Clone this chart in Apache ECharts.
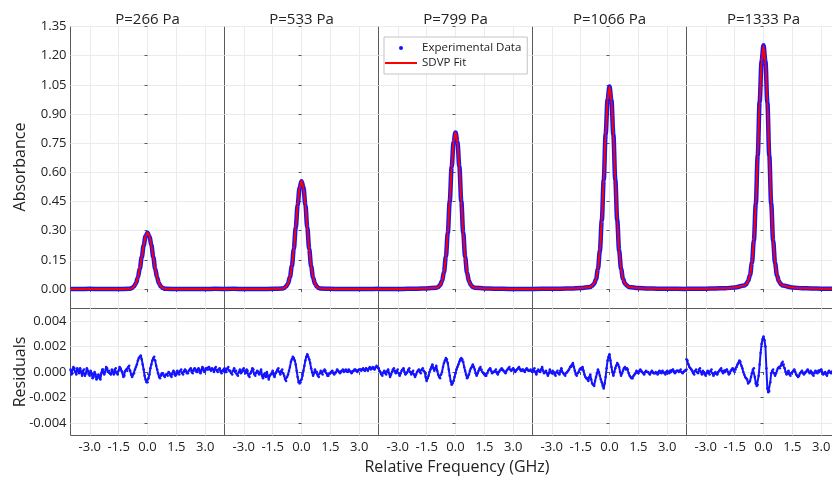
<!DOCTYPE html>
<html><head><meta charset="utf-8">
<script src="https://cdn.jsdelivr.net/npm/echarts@6/dist/echarts.min.js"></script>
<style>html,body{margin:0;padding:0;background:#fff}#c{width:832px;height:477px}</style>
</head><body><div id="c"></div>
<script>
// ---------- data ----------
const panelTitles = ['P=266 Pa', 'P=533 Pa', 'P=799 Pa', 'P=1066 Pa', 'P=1333 Pa'];
const freqTicks = [-3.0, -1.5, 0.0, 1.5, 3.0];
const absTicks = [0.00, 0.15, 0.30, 0.45, 0.60, 0.75, 0.90, 1.05, 1.20, 1.35];
const resTicks = [-0.004, -0.002, 0.000, 0.002, 0.004];

const freqAbs = [-4, -3.5, -3, -2.5, -2, -1.5, -1.0, -0.9, -0.8, -0.7, -0.6, -0.5, -0.4, -0.3, -0.2, -0.1, 0,
  0.1, 0.2, 0.3, 0.4, 0.5, 0.6, 0.7, 0.8, 0.9, 1.0, 1.5, 2, 2.5, 3, 3.5, 4];

const fit266 = [0, 0, 0, 0, 0, 0, 0.001, 0.002, 0.005, 0.013, 0.029, 0.059, 0.104, 0.163, 0.225, 0.272, 0.290,
  0.272, 0.225, 0.163, 0.104, 0.059, 0.029, 0.013, 0.005, 0.002, 0.001, 0, 0, 0, 0, 0, 0];
const fit533 = [0, 0, 0, 0, 0, 0.001, 0.003, 0.006, 0.012, 0.028, 0.061, 0.117, 0.205, 0.316, 0.433, 0.522, 0.555,
  0.522, 0.433, 0.316, 0.205, 0.117, 0.061, 0.028, 0.012, 0.006, 0.003, 0.001, 0, 0, 0, 0, 0];
const fit799 = [0, 0, 0, 0.001, 0.002, 0.003, 0.007, 0.011, 0.020, 0.040, 0.085, 0.165, 0.290, 0.451, 0.628, 0.757, 0.805,
  0.757, 0.628, 0.451, 0.290, 0.165, 0.085, 0.040, 0.020, 0.011, 0.007, 0.003, 0.002, 0.001, 0, 0, 0];
const fit1066 = [0, 0.001, 0.001, 0.002, 0.003, 0.005, 0.011, 0.018, 0.028, 0.052, 0.104, 0.198, 0.354, 0.562, 0.796, 0.972, 1.040,
  0.972, 0.796, 0.562, 0.354, 0.198, 0.104, 0.052, 0.028, 0.018, 0.011, 0.005, 0.003, 0.002, 0.001, 0.001, 0];
const fit1333 = [0.001, 0.001, 0.002, 0.003, 0.004, 0.008, 0.018, 0.025, 0.040, 0.071, 0.134, 0.250, 0.438, 0.688, 0.963, 1.169, 1.250,
  1.169, 0.963, 0.688, 0.438, 0.250, 0.134, 0.071, 0.040, 0.025, 0.018, 0.008, 0.004, 0.003, 0.002, 0.001, 0.001];

const exp266 = [0, 0, 0.001, 0, 0, 0, 0.001, 0.002, 0.006, 0.014, 0.030, 0.060, 0.105, 0.163, 0.224, 0.271, 0.289,
  0.272, 0.226, 0.164, 0.105, 0.059, 0.028, 0.012, 0.005, 0.002, 0.001, 0, 0, 0, 0, 0.001, 0];
const exp533 = [0, 0.001, 0, 0, 0, 0.001, 0.003, 0.006, 0.013, 0.029, 0.062, 0.118, 0.205, 0.315, 0.432, 0.521, 0.554,
  0.523, 0.434, 0.317, 0.206, 0.117, 0.060, 0.028, 0.012, 0.006, 0.003, 0.001, 0, 0, 0, 0, 0.001];
const exp799 = [0, 0, 0, 0.001, 0.002, 0.003, 0.007, 0.011, 0.021, 0.041, 0.086, 0.166, 0.289, 0.450, 0.627, 0.756, 0.805,
  0.758, 0.629, 0.452, 0.291, 0.165, 0.084, 0.040, 0.021, 0.011, 0.007, 0.003, 0.002, 0.001, 0, 0, 0];
const exp1066 = [0, 0.001, 0.001, 0.002, 0.003, 0.005, 0.011, 0.017, 0.027, 0.051, 0.103, 0.197, 0.353, 0.561, 0.797, 0.973, 1.041,
  0.971, 0.795, 0.563, 0.355, 0.198, 0.104, 0.053, 0.028, 0.018, 0.011, 0.005, 0.003, 0.002, 0.001, 0.001, 0];
const exp1333 = [0.002, 0.001, 0.002, 0.003, 0.004, 0.008, 0.018, 0.025, 0.041, 0.072, 0.135, 0.250, 0.437, 0.687, 0.964, 1.171, 1.253,
  1.171, 0.961, 0.686, 0.438, 0.250, 0.134, 0.071, 0.040, 0.025, 0.018, 0.008, 0.004, 0.003, 0.002, 0.001, 0.001];

// residual sample frequencies: main grid and the in-between samples
const freqRes = [-4.0, -3.9, -3.8, -3.7, -3.6, -3.5, -3.4, -3.3, -3.2, -3.1, -3.0, -2.9, -2.8, -2.7, -2.6, -2.5, -2.4, -2.3, -2.2, -2.1,
  -2.0, -1.9, -1.8, -1.7, -1.6, -1.5, -1.4, -1.3, -1.2, -1.1, -1.0, -0.9, -0.8, -0.7, -0.6, -0.5, -0.4, -0.3, -0.2, -0.1,
  0.0, 0.1, 0.2, 0.3, 0.4, 0.5, 0.6, 0.7, 0.8, 0.9, 1.0, 1.1, 1.2, 1.3, 1.4, 1.5, 1.6, 1.7, 1.8, 1.9,
  2.0, 2.1, 2.2, 2.3, 2.4, 2.5, 2.6, 2.7, 2.8, 2.9, 3.0, 3.1, 3.2, 3.3, 3.4, 3.5, 3.6, 3.7, 3.8, 3.9, 4.0];
const freqResMid = [-3.95, -3.85, -3.75, -3.65, -3.55, -3.45, -3.35, -3.25, -3.15, -3.05, -2.95, -2.85, -2.75, -2.65, -2.55, -2.45, -2.35, -2.25, -2.15, -2.05,
  -1.95, -1.85, -1.75, -1.65, -1.55, -1.45, -1.35, -1.25, -1.15, -1.05, -0.95, -0.85, -0.75, -0.65, -0.55, -0.45, -0.35, -0.25, -0.15, -0.05,
  0.05, 0.15, 0.25, 0.35, 0.45, 0.55, 0.65, 0.75, 0.85, 0.95, 1.05, 1.15, 1.25, 1.35, 1.45, 1.55, 1.65, 1.75, 1.85, 1.95,
  2.05, 2.15, 2.25, 2.35, 2.45, 2.55, 2.65, 2.75, 2.85, 2.95, 3.05, 3.15, 3.25, 3.35, 3.45, 3.55, 3.65, 3.75, 3.85, 3.95];

const res266 = [0.0002, -0.0001, 0.0003, -0.0002, 0.0001, 0.0003, -0.0003, 0.0002, -0.0001, 0.0001,
  -0.0003, -0.0001, -0.0004, -0.0002, -0.0005, -0.0003, -0.0001, 0.0002, 0.0000, 0.0003,
  0.0001, -0.0002, 0.0000, 0.0002, -0.0001, 0.0001, 0.0003, 0.0000, -0.0003, 0.0002,
  0.0004, 0.0001, -0.0004, -0.0001, 0.0004, 0.0009, 0.0012, 0.0010, 0.0002, -0.0006,
  -0.0008, -0.0002, 0.0006, 0.0011, 0.0009, 0.0002, -0.0004, -0.0003, -0.0001, -0.0004,
  -0.0002, 0.0000, -0.0003, -0.0002, 0.0000, -0.0002, -0.0001, 0.0001, -0.0001, 0.0000,
  0.0001, -0.0001, 0.0002, 0.0000, 0.0001, 0.0002, 0.0000, 0.0002, 0.0001, 0.0003,
  0.0001, 0.0002, 0.0004, 0.0001, 0.0002, 0.0003, 0.0001, 0.0002, 0.0000, 0.0001, 0.0000];
const res266Mid = [-0.0002, 0.0004, 0.0000, 0.0003, -0.0001, 0.0000, 0.0001, -0.0003, 0.0003, -0.0002,
  0.0001, -0.0005, 0.0000, -0.0006, -0.0002, -0.0006, 0.0002, -0.0002, 0.0004, 0.0000,
  -0.0001, 0.0002, -0.0002, 0.0003, -0.0002, 0.0004, 0.0001, -0.0004, 0.0001, 0.0001,
  0.0005, -0.0002, -0.0002, 0.0002, 0.0006, 0.0011, 0.0013, 0.0006, -0.0003, -0.0008,
  -0.0005, 0.0003, 0.0009, 0.0012, 0.0005, -0.0001, -0.0005, -0.0001, -0.0003, -0.0002,
  -0.0003, -0.0001, -0.0004, 0.0001, -0.0003, 0.0001, -0.0002, 0.0002, -0.0002, 0.0002,
  -0.0001, 0.0001, 0.0003, -0.0001, 0.0003, 0.0000, 0.0003, -0.0001, 0.0004, 0.0000,
  0.0003, 0.0002, 0.0002, 0.0003, 0.0000, 0.0004, 0.0000, 0.0003, -0.0001, 0.0002];

const res533 = [0.0003, 0.0000, 0.0004, 0.0001, -0.0002, 0.0003, 0.0001, -0.0003, 0.0002, 0.0000,
  0.0003, -0.0001, 0.0001, -0.0004, 0.0000, 0.0002, -0.0003, 0.0001, -0.0002, 0.0002,
  -0.0005, -0.0001, 0.0000, -0.0006, -0.0002, 0.0001, -0.0004, 0.0000, 0.0003, -0.0002,
  0.0002, -0.0003, -0.0007, -0.0002, 0.0004, 0.0010, 0.0011, 0.0006, -0.0004, -0.0009,
  -0.0006, 0.0001, 0.0009, 0.0014, 0.0010, 0.0003, -0.0003, 0.0002, 0.0000, -0.0004,
  0.0001, -0.0002, 0.0002, -0.0001, -0.0003, -0.0001, 0.0001, -0.0002, 0.0000, 0.0001,
  -0.0001, 0.0001, 0.0000, 0.0002, 0.0000, 0.0001, -0.0001, 0.0001, 0.0002, 0.0000,
  0.0002, 0.0001, 0.0003, 0.0001, 0.0002, 0.0003, 0.0002, 0.0004, 0.0002, 0.0005, 0.0003];
const res533Mid = [0.0000, 0.0003, 0.0001, -0.0001, 0.0001, 0.0000, -0.0002, 0.0000, -0.0001, 0.0002,
  0.0001, 0.0002, -0.0003, -0.0001, 0.0003, -0.0002, -0.0001, 0.0000, -0.0001, -0.0003,
  -0.0002, -0.0004, -0.0003, -0.0003, -0.0001, -0.0002, -0.0001, 0.0002, 0.0000, 0.0001,
  -0.0001, -0.0006, -0.0004, 0.0001, 0.0008, 0.0012, 0.0009, 0.0001, -0.0008, -0.0008,
  -0.0003, 0.0005, 0.0012, 0.0012, 0.0007, 0.0000, -0.0001, 0.0000, -0.0003, -0.0001,
  -0.0001, 0.0001, 0.0001, -0.0003, -0.0001, 0.0000, -0.0001, -0.0001, 0.0002, 0.0000,
  0.0000, 0.0002, 0.0001, 0.0001, 0.0002, 0.0000, 0.0000, 0.0002, 0.0001, 0.0001,
  0.0002, 0.0002, 0.0002, 0.0003, 0.0001, 0.0004, 0.0003, 0.0003, 0.0004, 0.0004];

const res799 = [0.0003, 0.0000, -0.0003, 0.0001, -0.0002, 0.0002, -0.0004, 0.0000, 0.0003, -0.0001,
  0.0002, -0.0003, 0.0001, 0.0003, -0.0002, 0.0000, 0.0003, -0.0002, 0.0001, -0.0004,
  0.0000, 0.0002, -0.0001, 0.0003, 0.0000, -0.0007, -0.0003, 0.0002, 0.0006, 0.0001,
  0.0005, -0.0002, -0.0005, 0.0000, 0.0007, 0.0011, 0.0007, -0.0003, -0.0010, -0.0007,
  -0.0001, 0.0004, 0.0008, 0.0011, 0.0008, 0.0001, -0.0005, -0.0002, 0.0003, 0.0006,
  0.0002, -0.0003, 0.0001, 0.0004, 0.0000, -0.0002, -0.0003, 0.0001, 0.0003, -0.0001,
  0.0000, 0.0002, -0.0002, 0.0001, 0.0003, 0.0001, -0.0001, 0.0002, 0.0004, 0.0001,
  0.0003, 0.0000, 0.0002, 0.0004, 0.0001, 0.0002, 0.0000, 0.0003, 0.0001, 0.0002, 0.0000];
const res799Mid = [0.0001, -0.0002, -0.0001, -0.0001, 0.0000, -0.0001, -0.0002, 0.0002, 0.0001, 0.0001,
  -0.0001, -0.0001, 0.0002, 0.0000, -0.0001, 0.0002, 0.0000, 0.0000, -0.0002, -0.0002,
  0.0001, 0.0000, 0.0002, 0.0001, -0.0004, -0.0005, 0.0000, 0.0004, 0.0003, 0.0003,
  0.0001, -0.0004, -0.0002, 0.0004, 0.0009, 0.0010, 0.0002, -0.0007, -0.0009, -0.0004,
  0.0002, 0.0006, 0.0010, 0.0010, 0.0004, -0.0002, -0.0004, 0.0001, 0.0004, 0.0004,
  -0.0001, -0.0001, 0.0003, 0.0002, -0.0001, -0.0003, -0.0001, 0.0002, 0.0001, 0.0000,
  0.0001, 0.0000, 0.0000, 0.0002, 0.0002, 0.0000, 0.0001, 0.0003, 0.0002, 0.0002,
  0.0001, 0.0001, 0.0003, 0.0002, 0.0001, 0.0001, 0.0002, 0.0002, 0.0001, 0.0001];

const res1066 = [0.0000, 0.0003, -0.0002, 0.0002, 0.0000, 0.0004, -0.0001, 0.0001, -0.0003, 0.0002,
  -0.0001, 0.0000, -0.0003, 0.0001, -0.0002, 0.0003, -0.0001, -0.0003, 0.0000, 0.0002,
  0.0004, 0.0007, 0.0001, -0.0003, 0.0000, 0.0003, 0.0004, -0.0002, -0.0005, -0.0007,
  -0.0002, -0.0009, -0.0011, -0.0004, 0.0002, -0.0003, -0.0008, -0.0013, -0.0004, 0.0009,
  0.0014, 0.0004, -0.0003, 0.0003, 0.0007, 0.0004, -0.0003, 0.0001, 0.0004, 0.0003,
  -0.0001, -0.0004, -0.0005, -0.0002, 0.0001, -0.0001, 0.0002, 0.0000, -0.0002, 0.0001,
  0.0000, -0.0002, 0.0001, -0.0001, 0.0000, -0.0002, 0.0001, -0.0001, 0.0000, -0.0002,
  0.0001, -0.0001, 0.0000, 0.0002, -0.0001, 0.0001, 0.0000, 0.0002, -0.0001, 0.0001, 0.0002];
const res1066Mid = [0.0002, 0.0000, 0.0001, 0.0001, 0.0002, 0.0001, 0.0000, -0.0001, -0.0001, 0.0000,
  0.0001, -0.0002, 0.0000, -0.0001, 0.0001, 0.0000, -0.0002, -0.0001, 0.0001, 0.0004,
  0.0005, 0.0004, -0.0002, -0.0001, 0.0002, 0.0002, 0.0001, -0.0004, -0.0005, -0.0004,
  -0.0006, -0.0010, -0.0007, -0.0001, 0.0000, -0.0006, -0.0011, -0.0009, 0.0003, 0.0012,
  0.0009, 0.0000, 0.0000, 0.0005, 0.0006, 0.0000, -0.0001, 0.0003, 0.0002, 0.0002,
  -0.0003, -0.0005, -0.0003, -0.0001, 0.0000, 0.0001, 0.0001, -0.0001, 0.0000, 0.0000,
  -0.0001, 0.0000, 0.0000, -0.0001, -0.0001, -0.0001, 0.0000, 0.0001, -0.0001, -0.0001,
  0.0000, 0.0001, 0.0001, 0.0000, 0.0000, 0.0001, 0.0001, 0.0000, 0.0000, 0.0001];

const res1333 = [0.0010, 0.0006, 0.0003, 0.0001, -0.0002, 0.0002, -0.0001, 0.0003, -0.0002, 0.0000,
  -0.0003, 0.0001, -0.0002, 0.0002, -0.0003, 0.0000, -0.0002, 0.0001, 0.0003, -0.0001,
  0.0000, 0.0002, -0.0002, 0.0001, 0.0003, 0.0000, 0.0004, 0.0007, 0.0008, 0.0003,
  -0.0002, -0.0005, -0.0009, -0.0007, -0.0001, 0.0003, -0.0009, -0.0010, 0.0006, 0.0022,
  0.0028, 0.0020, -0.0013, -0.0015, -0.0001, 0.0002, -0.0003, 0.0001, 0.0004, 0.0005,
  0.0008, 0.0003, -0.0002, 0.0001, -0.0003, 0.0000, 0.0002, -0.0002, -0.0004, -0.0001,
  0.0001, -0.0002, 0.0000, 0.0002, -0.0001, 0.0000, -0.0003, 0.0001, -0.0001, 0.0000,
  0.0002, -0.0002, 0.0000, -0.0003, 0.0001, -0.0001, 0.0001, -0.0002, 0.0000, 0.0001, -0.0001];
const res1333Mid = [0.0009, 0.0004, 0.0002, -0.0001, 0.0001, 0.0000, 0.0002, 0.0000, 0.0001, -0.0002,
  -0.0001, -0.0001, 0.0001, -0.0001, -0.0001, -0.0001, 0.0000, 0.0002, 0.0001, 0.0001,
  0.0001, 0.0000, -0.0001, 0.0002, 0.0001, 0.0002, 0.0006, 0.0009, 0.0005, 0.0000,
  -0.0004, -0.0006, -0.0008, -0.0004, 0.0002, -0.0004, -0.0011, -0.0003, 0.0015, 0.0026,
  0.0025, 0.0003, -0.0016, -0.0008, 0.0001, -0.0001, -0.0001, 0.0003, 0.0003, 0.0007,
  0.0006, 0.0000, -0.0001, -0.0002, -0.0001, 0.0001, 0.0000, -0.0003, -0.0003, 0.0000,
  -0.0001, -0.0001, 0.0001, 0.0000, 0.0001, -0.0002, -0.0001, 0.0000, 0.0001, 0.0001,
  0.0000, -0.0001, -0.0002, -0.0001, 0.0000, 0.0000, -0.0001, -0.0001, 0.0000, 0.0000];

// ---------- chart ----------
const fitSets = [fit266, fit533, fit799, fit1066, fit1333];
const expSets = [exp266, exp533, exp799, exp1066, exp1333];
const resSets = [res266, res533, res799, res1066, res1333];
const resMidSets = [res266Mid, res533Mid, res799Mid, res1066Mid, res1333Mid];

const FONT = '"Open Sans", "Noto Sans", sans-serif';
const PL = 70.5, PW = 154, TT = 26.5, TH = 282, BT = 308.5, BH = 127;
const AX = '#5a5a5a', GRIDC = '#ebebeb', BLUE = '#1414ff', RED = '#ff0000', TXT = '#222222';

const zip = (xs, ys) => xs.map((x, k) => [x, ys[k]]);
function mergeRes(main, mid) {
  const out = [];
  for (let k = 0; k < freqRes.length; k++) {
    out.push([freqRes[k], main[k]]);
    if (k < freqResMid.length) out.push([freqResMid[k], mid[k]]);
  }
  return out;
}

const grid = [], xAxis = [], yAxis = [], series = [], graphic = [];
for (let i = 0; i < 5; i++) {
  grid.push({ left: PL + PW * i, top: TT, width: PW, height: TH, show: true, borderColor: AX, borderWidth: 1, outerBoundsMode: 'none' });
}
for (let i = 0; i < 5; i++) {
  grid.push({ left: PL + PW * i, top: BT, width: PW, height: BH, show: true, borderColor: AX, borderWidth: 1, outerBoundsMode: 'none' });
}
for (let g = 0; g < 10; g++) {
  const bottom = g >= 5, i = g % 5;
  xAxis.push({
    type: 'value', gridIndex: g, min: -4, max: 4,
    axisLine: { show: false },
    axisTick: { show: true, customValues: freqTicks, length: 3, lineStyle: { color: AX } },
    axisLabel: { show: bottom, customValues: freqTicks, formatter: v => v.toFixed(1), fontSize: 13, color: TXT, fontFamily: FONT, margin: 5 },
    splitLine: { show: true, lineStyle: { color: GRIDC, width: 1 } }
  });
  yAxis.push({
    type: 'value', gridIndex: g,
    min: bottom ? -0.005 : -0.1, max: bottom ? 0.005 : 1.35,
    axisLine: { show: false },
    axisTick: { show: true, customValues: bottom ? resTicks : absTicks, length: 3, lineStyle: { color: AX } },
    axisLabel: { show: i === 0, customValues: bottom ? resTicks : absTicks,
      formatter: v => bottom ? v.toFixed(3) : v.toFixed(2), fontSize: 13, color: TXT, fontFamily: FONT, margin: 4 },
    splitLine: { show: true, lineStyle: { color: GRIDC, width: 1 } }
  });
}
for (let i = 0; i < 5; i++) {
  series.push({
    name: 'Experimental Data', type: 'line', xAxisIndex: i, yAxisIndex: i,
    data: zip(freqAbs, expSets[i]), symbol: 'none', smooth: 0.35, smoothMonotone: 'x',
    lineStyle: { color: BLUE, width: 4.5 }, itemStyle: { color: BLUE }, z: 2, animation: false
  });
  series.push({
    name: 'SDVP Fit', type: 'line', xAxisIndex: i, yAxisIndex: i,
    data: zip(freqAbs, fitSets[i]), symbol: 'none', smooth: 0.35, smoothMonotone: 'x',
    lineStyle: { color: RED, width: 2 }, itemStyle: { color: RED }, z: 3, animation: false
  });
  series.push({
    name: 'Residuals', type: 'line', xAxisIndex: 5 + i, yAxisIndex: 5 + i,
    data: mergeRes(resSets[i], resMidSets[i]), symbol: 'circle', symbolSize: 2.5, showSymbol: true,
    lineStyle: { color: BLUE, width: 2 }, itemStyle: { color: BLUE }, z: 2, animation: false
  });
  graphic.push({ type: 'text', x: PL + PW * i + PW / 2, y: 20,
    style: { text: panelTitles[i], font: '15px ' + FONT, fill: TXT, textAlign: 'center', textVerticalAlign: 'middle' } });
}
graphic.push({ type: 'text', x: 20, y: 167, rotation: Math.PI / 2,
  style: { text: 'Absorbance', font: '16px ' + FONT, fill: TXT, textAlign: 'center', textVerticalAlign: 'middle' } });
graphic.push({ type: 'text', x: 20, y: 372, rotation: Math.PI / 2,
  style: { text: 'Residuals', font: '16px ' + FONT, fill: TXT, textAlign: 'center', textVerticalAlign: 'middle' } });
graphic.push({ type: 'text', x: 457, y: 467,
  style: { text: 'Relative Frequency (GHz)', font: '16px ' + FONT, fill: TXT, textAlign: 'center', textVerticalAlign: 'middle' } });

const chart = echarts.init(document.getElementById('c'), null, { renderer: 'canvas' });
chart.setOption({
  animation: false,
  backgroundColor: '#ffffff',
  grid, xAxis, yAxis, series, graphic,
  legend: {
    left: 384, top: 37, orient: 'vertical', itemWidth: 32, itemHeight: 4, itemGap: 3,
    padding: [5, 6, 5, 1], borderColor: '#c4c4c4', borderWidth: 1, backgroundColor: '#ffffff',
    textStyle: { fontSize: 11.5, fontFamily: FONT, color: TXT },
    data: [
      { name: 'Experimental Data', icon: 'circle' },
      { name: 'SDVP Fit', icon: 'path://M0,0H32V2H0Z' }
    ]
  }
});
</script></body></html>
